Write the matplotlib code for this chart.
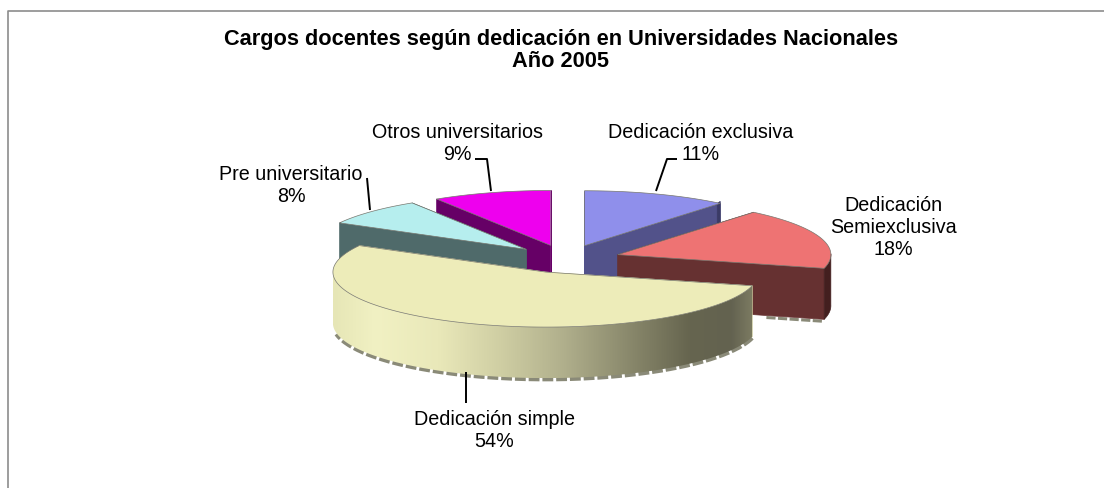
import numpy as np
import matplotlib
matplotlib.use("Agg")
import matplotlib.pyplot as plt
from matplotlib.patches import Polygon
from matplotlib.colors import LinearSegmentedColormap

plt.rcParams['font.family'] = ['Liberation Sans', 'DejaVu Sans']

title = "Cargos docentes según dedicación en Universidades Nacionales\nAño 2005"
categories = ["Dedicación exclusiva", "Dedicación\nSemiexclusiva", "Dedicación simple",
              "Pre universitario", "Otros universitarios"]
shares = [11, 18, 54, 8, 9]
top_colors = ["#8f8feb", "#ee7373", "#edecb9", "#b6eeee", "#ee00ee"]
side_colors = ["#52528a", "#663131", "#edecb9", "#4f6a6a", "#660066"]
rim_colors = ["#3b3b66", "#431f1f", "#edecb9", "#4f6a6a", "#660066"]
paint_order = [4, 0, 3, 1, 2]
label_xy = [(701, 144), (893, 227.5), (494, 430.5), (291, 185.5), (457, 143)]
leaders = [[(656, 192), (667, 160), (677, 160)],
           None,
           [(466, 373), (466, 404)],
           [(370, 211), (367, 179)],
           [(491, 192), (487, 160), (475, 160)]]

# geometry of the tilted pie in figure pixels
CX, CY, RX, RY = 566, 260, 213, 55
EXPLODE, DEPTH = 0.256, 51

fig = plt.figure(figsize=(11.04, 4.89), dpi=100)
ax = fig.add_axes([0, 0, 1, 1])
ax.set_xlim(0, 1104)
ax.set_ylim(489, 0)
ax.axis("off")

# chart area border (top and left visible)
ax.plot([1104, 7.5, 7.5], [11.5, 11.5, 489], color="#8c8c8c", lw=1.2, solid_capstyle="butt")

frac = np.array(shares) / sum(shares)
ends = np.cumsum(frac) * 2 * np.pi
starts = ends - frac * 2 * np.pi

rim_cmap = LinearSegmentedColormap.from_list("rim", [
    (0.00, "#e6e6b6"), (0.10, "#f1f1c3"), (0.25, "#e9e8b9"), (0.40, "#cfcea3"),
    (0.55, "#b0af8c"), (0.70, "#8b8a6d"), (0.85, "#66654f"), (0.95, "#636250"), (1.00, "#7c7b62")])
SHADOW = "#8a8a78"

for i in paint_order:
    a0, a1 = starts[i], ends[i]
    mid = (a0 + a1) / 2
    cx = CX + EXPLODE * RX * np.sin(mid)
    cy = CY - EXPLODE * RY * np.cos(mid)
    t = np.linspace(a0, a1, 200)
    ax_x = cx + RX * np.sin(t)
    ax_y = cy - RY * np.cos(t)
    z = 2 + paint_order.index(i)

    # cut faces
    for a in (a0, a1):
        px, py = cx + RX * np.sin(a), cy - RY * np.cos(a)
        ax.add_patch(Polygon([(cx, cy), (px, py), (px, py + DEPTH), (cx, cy + DEPTH)],
                             closed=True, fc=side_colors[i], ec=side_colors[i], lw=0.5, zorder=z))
        if a == a1 and i == 0:
            ax.add_patch(Polygon([(px - 3, py), (px, py - 2), (px, py + DEPTH - 2), (px - 3, py + DEPTH)],
                                 closed=True, fc=rim_colors[i], ec=rim_colors[i], lw=0.5, zorder=z))
        if a == a1 and i == 1:
            ax.plot([cx + 0.72 * (px - cx), px], [cy + DEPTH + 0.72 * (py - cy) + 2, py + DEPTH + 2],
                    color=SHADOW, lw=2.2, ls=(0, (3, 0.8)), zorder=z - 0.1)

    # outer rim where it faces the viewer
    mask = np.cos(t) <= 0.02
    if mask.any():
        rx_, ry_ = ax_x[mask], ax_y[mask]
        rim = np.column_stack([np.r_[rx_, rx_[::-1]], np.r_[ry_, ry_[::-1] + DEPTH]])
        if i == 2:
            # soft grey shadow under the large slice, inset from the rim ends
            trim = np.sin(t[mask]) ** 2 < 0.97
            ax.plot(rx_[trim], ry_[trim] + DEPTH + 1.2, color=SHADOW, lw=3, ls=(0, (2.6, 0.7)), zorder=z - 0.1)
            patch = Polygon(rim, closed=True, fc="none", ec="none", zorder=z)
            ax.add_patch(patch)
            img = ax.imshow(np.linspace(0, 1, 256)[None, :], cmap=rim_cmap, aspect="auto",
                            extent=(rx_.min(), rx_.max(), ry_.max() + DEPTH, ry_.min()), zorder=z)
            img.set_clip_path(patch)
            ax.set_xlim(0, 1104)
            ax.set_ylim(489, 0)
        else:
            ax.add_patch(Polygon(rim, closed=True, fc=rim_colors[i], ec=rim_colors[i], lw=0.5, zorder=z))

    # top surface
    top = np.column_stack([np.r_[cx, ax_x], np.r_[cy, ax_y]])
    ax.add_patch(Polygon(top, closed=True, fc=top_colors[i], ec="#77776f", lw=0.5, zorder=z + 0.5))

for name, share, (lx, ly), lead in zip(categories, shares, label_xy, leaders):
    ax.text(lx, ly, f"{name}\n{share}%", ha="center", va="center", fontsize=14.2,
            color="black", linespacing=1.2, zorder=20)
    if lead:
        ax.plot(*zip(*lead), color="black", lw=1.4, solid_capstyle="butt", zorder=19)

ax.text(561, 50.5, title, ha="center", va="center", fontsize=15.7, fontweight="bold",
        linespacing=1.12, color="black", zorder=20)

fig.savefig("out.png", dpi=100, facecolor="white")
